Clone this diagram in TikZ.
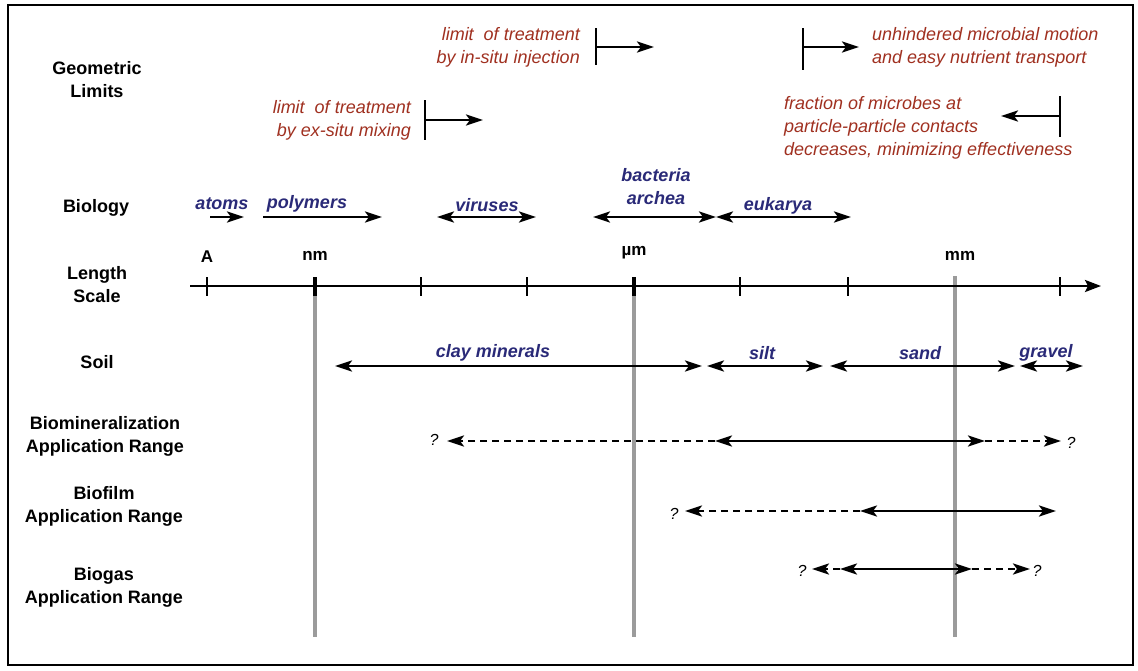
\documentclass[tikz,border=0pt]{standalone}
\usepackage{fontspec}
\setmainfont{Liberation Sans}
\usetikzlibrary{arrows.meta}
\definecolor{limred}{RGB}{160,48,32}
\definecolor{bioblue}{RGB}{42,42,120}
\definecolor{vgray}{RGB}{155,155,155}
\begin{document}
\begin{tikzpicture}[x=1pt,y=-1pt,
  rowlabel/.style={font=\fontsize{18}{23}\selectfont\bfseries, align=center, inner sep=0pt},
  redtxt/.style={font=\fontsize{18}{23}\selectfont\itshape, text=limred, inner sep=0pt},
  bluetxt/.style={font=\fontsize{18}{23}\selectfont\bfseries\itshape, text=bioblue, inner sep=0pt, align=center},
  ticklab/.style={font=\fontsize{17}{19}\selectfont\bfseries, inner sep=0pt},
  qmark/.style={font=\fontsize{16}{18}\selectfont\itshape, inner sep=0pt},
  rng/.style={line width=2.6pt, {Stealth[length=17pt,width=11pt,inset=4pt]}-{Stealth[length=17pt,width=11pt,inset=4pt]}},
  rarr/.style={line width=2.6pt, -{Stealth[length=17pt,width=11pt,inset=4pt]}},
  dshd/.style={dash pattern=on 7pt off 5pt},
  limbar/.style={line width=2.2pt},
  gline/.style={line width=3.4pt, vgray},
  tickmark/.style={line width=2pt},
  bigtick/.style={line width=3.8pt}
]
\useasboundingbox (0,0) rectangle (1138,670);
\fill[white] (0,0) rectangle (1138,670);
\draw[line width=2.2pt] (8,5) rectangle (1133,665);

% row labels
\node[rowlabel] (lgeo) at (97,80) {Geometric\\Limits};
\node[rowlabel] (lbio) at (96,208) {Biology};
\node[rowlabel] (llen) at (97,285) {Length\\Scale};
\node[rowlabel] (lsoil) at (97,362) {Soil};
\node[rowlabel] (lmin) at (105,436) {Biomineralization\\Application Range};
\node[rowlabel] (lfilm) at (104,506) {Biofilm\\Application Range};
\node[rowlabel] (lgas) at (104,587) {Biogas\\Application Range};

% gray vertical lines
\coordinate (gnmT) at (315,278); \coordinate (gnmB) at (315,637);
\coordinate (gumT) at (634,278); \coordinate (gumB) at (634,637);
\coordinate (gmmT) at (955,276); \coordinate (gmmB) at (955,637);
\draw[gline] (gnmT) -- (gnmB);
\draw[gline] (gumT) -- (gumB);
\draw[gline] (gmmT) -- (gmmB);

% length axis
\coordinate (axL) at (190,286); \coordinate (axR) at (1101,286);
\draw[line width=2.4pt, -{Stealth[length=16pt,width=12pt,inset=3pt]}] (axL) -- (axR);
\foreach \x in {207,421,527,740,848,1060}{
  \draw[tickmark] (\x,277) -- (\x,296);
}
\draw[bigtick] (315,277) -- (315,296);
\draw[bigtick] (634,277) -- (634,296);
\node[ticklab] (tA) at (207,257) {A};
\node[ticklab] (tnm) at (315,256) {nm};
\node[ticklab] (tum) at (634,253) {µm};
\node[ticklab] (tmm) at (960,256) {mm};

% geometric limits
\node[redtxt, align=right, anchor=east] (gins) at (580,47) {limit\ \ of treatment\\by in-situ injection};
\coordinate (b1t) at (596,28); \coordinate (b1b) at (596,65); \coordinate (b1m) at (596,47); \coordinate (b1e) at (654,47);
\draw[limbar] (b1t) -- (b1b);
\draw[rarr] (b1m) -- (b1e);

\node[redtxt, align=right, anchor=east] (gexs) at (411,120) {limit\ \ of treatment\\by ex-situ mixing};
\coordinate (b2t) at (425,100); \coordinate (b2b) at (425,140); \coordinate (b2m) at (425,120); \coordinate (b2e) at (483,120);
\draw[limbar] (b2t) -- (b2b);
\draw[rarr] (b2m) -- (b2e);

\node[redtxt, align=left, anchor=west] (gunh) at (872,47) {unhindered microbial motion\\and easy nutrient transport};
\coordinate (b3t) at (803,28); \coordinate (b3b) at (803,70); \coordinate (b3m) at (803,47); \coordinate (b3e) at (859,47);
\draw[limbar] (b3t) -- (b3b);
\draw[rarr] (b3m) -- (b3e);

\node[redtxt, align=left, anchor=west] (gfra) at (784,128) {fraction of microbes at\\particle-particle contacts\\decreases, minimizing effectiveness};
\coordinate (b4t) at (1060,96); \coordinate (b4b) at (1060,137); \coordinate (b4m) at (1060,116); \coordinate (b4e) at (1001,116);
\draw[limbar] (b4t) -- (b4b);
\draw[rarr] (b4m) -- (b4e);

% biology
\node[bluetxt] (batoms) at (222,204) {atoms};
\node[bluetxt] (bpoly) at (307,204) {polymers};
\node[bluetxt] (bvir) at (487,205) {viruses};
\node[bluetxt] (bbac) at (656,187) {bacteria\\archea};
\node[bluetxt] (beuk) at (778,206) {eukarya};
\coordinate (a1) at (210,217); \coordinate (a2) at (244,217);
\coordinate (p1) at (263,217); \coordinate (p2) at (382,217);
\coordinate (v1) at (437,217); \coordinate (v2) at (536,217);
\coordinate (ba1) at (593,217); \coordinate (ba2) at (716,217);
\coordinate (e1) at (716,217); \coordinate (e2) at (851,217);
\draw[rarr] (a1) -- (a2);
\draw[rarr] (p1) -- (p2);
\draw[rng] (v1) -- (v2);
\draw[rng] (ba1) -- (ba2);
\draw[rng] (e1) -- (e2);

% soil
\node[bluetxt] (sclay) at (493,353) {clay minerals};
\node[bluetxt] (ssilt) at (762,353) {silt};
\node[bluetxt] (ssand) at (920,353) {sand};
\node[bluetxt] (sgrav) at (1046,353) {gravel};
\coordinate (c1) at (335,366); \coordinate (c2) at (702,366);
\coordinate (si1) at (707,366); \coordinate (si2) at (823,366);
\coordinate (sa1) at (830,366); \coordinate (sa2) at (1015,366);
\coordinate (gr1) at (1020,366); \coordinate (gr2) at (1083,366);
\draw[rng] (c1) -- (c2);
\draw[rng] (si1) -- (si2);
\draw[rng] (sa1) -- (sa2);
\draw[rng] (gr1) -- (gr2);

% biomineralization
\node[qmark] (q1) at (434,440) {?};
\node[qmark] (q2) at (1071,443) {?};
\coordinate (m1) at (447,441); \coordinate (m2) at (715,441);
\coordinate (m3) at (985,441); \coordinate (m4) at (1061,441);
\draw[rarr, dshd] (m2) -- (m1);
\draw[rng] (m2) -- (m3);
\draw[rarr, dshd] (m3) -- (m4);

% biofilm
\node[qmark] (q3) at (674,514) {?};
\coordinate (f1) at (685,511); \coordinate (f2) at (860,511); \coordinate (f3) at (1056,511);
\draw[rarr, dshd] (f2) -- (f1);
\draw[rng] (f2) -- (f3);

% biogas
\node[qmark] (q4) at (802,571) {?};
\node[qmark] (q5) at (1037,571) {?};
\coordinate (h1) at (812,569); \coordinate (h2) at (840,569);
\coordinate (h3) at (972,569); \coordinate (h4) at (1030,569);
\draw[rarr, dshd] (h2) -- (h1);
\draw[rng] (h2) -- (h3);
\draw[rarr, dshd] (h3) -- (h4);
\end{tikzpicture}
\end{document}
